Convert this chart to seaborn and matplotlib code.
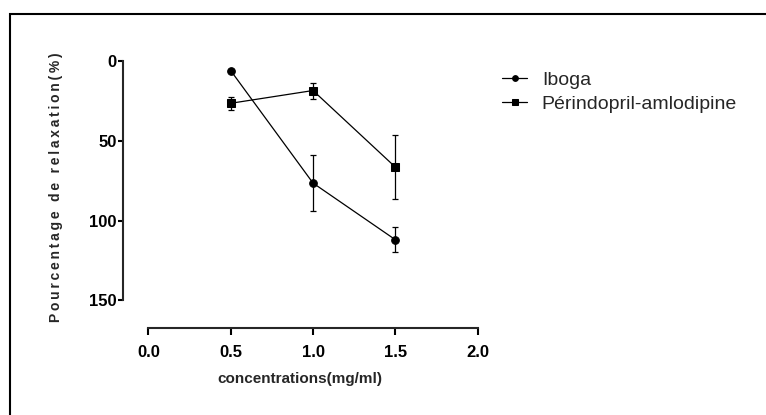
import numpy as np
import pandas as pd
import seaborn as sns
import matplotlib.pyplot as plt
from matplotlib.patches import Rectangle

# values
concentrations = [0.5, 1.0, 1.5]
iboga_mean = [6, 76.5, 112]
iboga_err = [1, 17.5, 8]
perindo_mean = [26.5, 18.5, 66.5]
perindo_err = [4, 5, 20]
series_names = ["Iboga", "Périndopril-amlodipine"]
x_ticks = [0.0, 0.5, 1.0, 1.5, 2.0]
y_ticks = [0, 50, 100, 150]

df = pd.DataFrame({
    "conc": concentrations * 2,
    "relax": iboga_mean + perindo_mean,
    "err": iboga_err + perindo_err,
    "groupe": [series_names[0]] * 3 + [series_names[1]] * 3,
})

sns.set_style("ticks")
plt.rcParams['font.family'] = ['Liberation Sans', 'DejaVu Sans']

fig = plt.figure(figsize=(7.66, 4.15), dpi=100)
ax = fig.add_axes([123 / 766, 1 - 327.5 / 415, (477.7 - 123) / 766, (327.5 - 61) / 415])

sns.lineplot(data=df, x="conc", y="relax", hue="groupe", style="groupe",
             markers={series_names[0]: "o", series_names[1]: "s"}, dashes=False,
             palette=["black", "black"], linewidth=0.9, markersize=5.5,
             markeredgecolor="black", ax=ax, clip_on=False)

for name in series_names:
    sub = df[df["groupe"] == name]
    ax.errorbar(sub["conc"], sub["relax"], yerr=sub["err"], fmt="none",
                ecolor="black", elinewidth=0.9, capsize=2, capthick=0.9, clip_on=False)

ax.set_xlim(-0.154, 2.0)
ax.set_ylim(167, 0)
ax.set_xticks(x_ticks)
ax.set_yticks(y_ticks)
ax.set_xticklabels([f"{t:.1f}" for t in x_ticks], fontsize=12, fontweight="bold")
ax.set_yticklabels([str(t) for t in y_ticks], fontsize=12, fontweight="bold")
ax.spines["top"].set_visible(False)
ax.spines["right"].set_visible(False)
ax.spines["left"].set_bounds(0, 150)
ax.spines["bottom"].set_bounds(0, 2.0)
for s in ["left", "bottom"]:
    ax.spines[s].set_linewidth(1.5)
ax.tick_params(axis="x", width=1.5, length=5, pad=7.5, colors="black")
ax.tick_params(axis="y", width=1.5, length=3.5, pad=1, colors="black")

ax.set_xlabel("concentrations(mg/ml)", fontsize=11, fontweight="bold", labelpad=9)
ax.set_ylabel("")
ylab = "\u2009".join("Pourcentage de relaxation(%)")
fig.text(56 / 766, 1 - 187 / 415, ylab, rotation=90, ha="center", va="center",
         fontsize=10, fontweight="bold")

handles, labels = ax.get_legend_handles_labels()
ax.legend(handles, labels, loc="upper left", bbox_to_anchor=(502 / 766, 1 - 71 / 415),
          bbox_transform=fig.transFigure, frameon=False, borderaxespad=0, borderpad=0,
          handlelength=1.3, handletextpad=0.75, labelspacing=0.35, markerscale=0.75,
          prop={"size": 14})

fig.patches.append(Rectangle((9.5 / 766, -0.2), 1.5, 0.2 + 1 - 14 / 415, transform=fig.transFigure,
                             fill=False, edgecolor="black", linewidth=1.5))

fig.savefig("out.png", dpi=100)
